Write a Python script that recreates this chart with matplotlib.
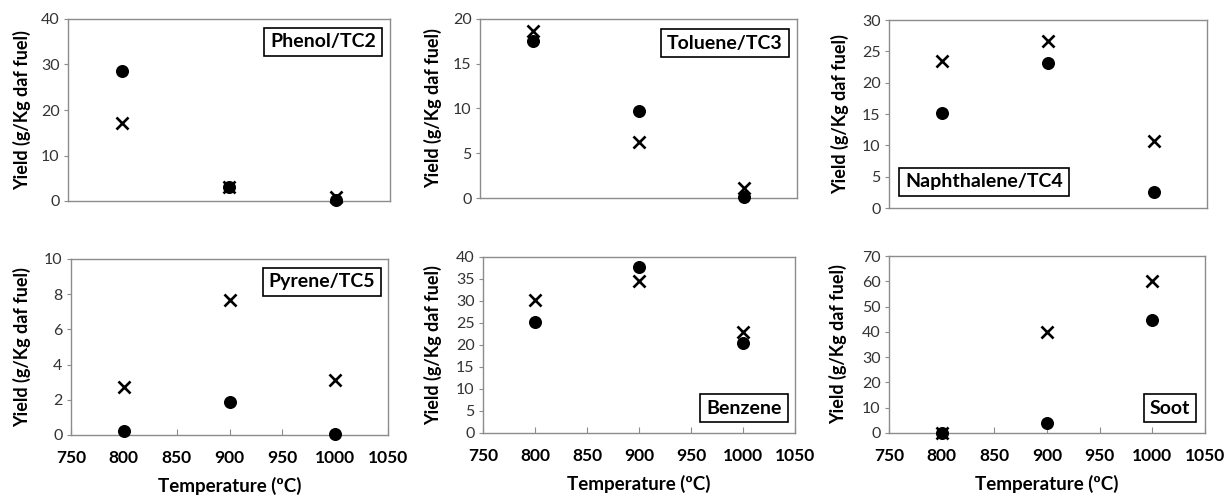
import matplotlib
matplotlib.use("Agg")
import matplotlib.pyplot as plt

W, H = 1225, 497
temps = [800, 900, 1000]

titles = ["Phenol/TC2", "Toluene/TC3", "Naphthalene/TC4", "Pyrene/TC5", "Benzene", "Soot"]
circle_vals = [
    [28.6, 3.0, 0.2],
    [17.5, 9.7, 0.1],
    [15.2, 23.1, 2.5],
    [0.2, 1.9, 0.05],
    [25.2, 37.8, 20.4],
    [0.0, 3.8, 44.8],
]
cross_vals = [
    [17.2, 3.0, 0.8],
    [18.7, 6.3, 1.1],
    [23.5, 26.7, 10.7],
    [2.75, 7.65, 3.15],
    [30.3, 34.5, 23.0],
    [0.0, 40.0, 60.0],
]
ymax = [40, 20, 30, 10, 40, 70]
ystep = [10, 5, 5, 2, 5, 10]
xticks = [750, 800, 850, 900, 950, 1000, 1050]

# axes boxes in pixels: left, right, top, bottom
boxes = [
    (68, 390, 19, 201),
    (480, 797, 19, 198),
    (889, 1207, 20, 208),
    (71, 388, 259, 435),
    (483, 795, 257, 433),
    (889, 1205, 256, 433),
]
ylab_x = [22, 433, 840, 22, 433, 838]
# label box centers in pixels
label_pos = [(323, 42), (725, 43), (984, 182), (322, 282), (744, 408), (1170, 408)]

plt.rcParams['font.family'] = ['Lato', 'DejaVu Sans']
fig = plt.figure(figsize=(W / 100, H / 100), dpi=100)

for i in range(6):
    l, r, t, b = boxes[i]
    ax = fig.add_axes([l / W, 1 - b / H, (r - l) / W, (b - t) / H])
    ax.scatter(temps, circle_vals[i], marker='o', s=70, color='black', zorder=3, clip_on=False)
    ax.scatter(temps, cross_vals[i], marker='x', s=75, color='black', linewidths=1.9, zorder=4, clip_on=False)
    ax.set_xlim(750, 1050)
    ax.set_ylim(0, ymax[i])
    ax.set_yticks(range(0, ymax[i] + 1, ystep[i]))
    ax.set_xticks(xticks)
    for s in ax.spines.values():
        s.set_color('#8c8c8c')
        s.set_linewidth(1.0)
    ax.tick_params(axis='y', direction='out', length=3, color='#8c8c8c', labelsize=11.5, labelcolor='#333333', pad=3)
    ax.tick_params(axis='x', direction='in', length=4, color='#8c8c8c', labelsize=12.5, labelcolor='black', pad=11)
    if i < 3:
        ax.tick_params(axis='x', labelbottom=False, length=0)
    else:
        for lab in ax.get_xticklabels():
            lab.set_fontweight('bold')
        ax.set_xlabel("Temperature (ºC)", fontsize=13.5, fontweight='bold', labelpad=8)
    fig.text(ylab_x[i] / W, 1 - ((t + b) / 2) / H, "Yield (g/Kg daf fuel)", rotation=90,
             ha='center', va='center', fontsize=13, fontweight='bold')
    cx, cy = label_pos[i]
    fig.text(cx / W, 1 - cy / H, titles[i], ha='center', va='center', fontsize=14, fontweight='bold',
             bbox=dict(boxstyle='square,pad=0.3', facecolor='white', edgecolor='black', linewidth=1.2))

fig.savefig("out.png", dpi=100, facecolor='white')
